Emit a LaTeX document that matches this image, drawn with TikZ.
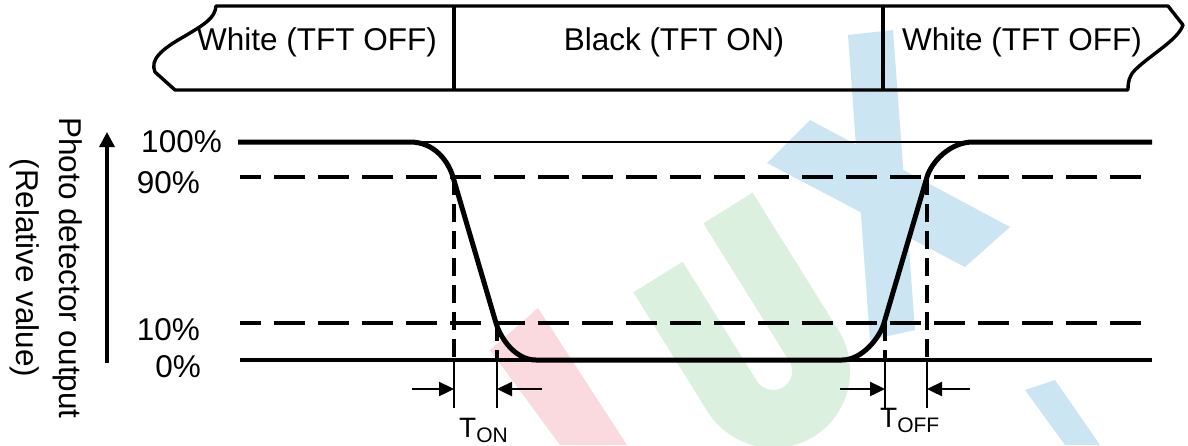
\documentclass[tikz,border=0pt]{standalone}
\usepackage{fontspec}
\setmainfont{Liberation Sans}
\usetikzlibrary{arrows.meta}
\definecolor{wmred}{RGB}{250,218,223}
\definecolor{wmgreen}{RGB}{220,240,224}
\definecolor{wmblue}{RGB}{204,229,243}
\tikzset{
  boxline/.style={line width=3.4pt, line join=round},
  thinline/.style={line width=2.4pt},
  signal/.style={line width=5pt, line join=round},
  hdash/.style={line width=4.5pt, dash pattern=on 31pt off 13pt, dash phase=10pt},
  vdash/.style={line width=3.4pt, dash pattern=on 18pt off 9pt},
  extline/.style={line width=2.4pt},
  dimarrow/.style={line width=2.4pt, -{Triangle[length=15pt,width=14pt]}},
  bigtext/.style={font=\fontsize{31.5}{36}\selectfont, inner sep=0pt},
  tlabel/.style={font=\fontsize{28}{30}\selectfont, inner sep=0pt, anchor=base west},
}
\newcommand{\subtxt}[1]{\raisebox{-5pt}{\fontsize{21}{22}\selectfont #1}}
\begin{document}
\begin{tikzpicture}[x=1pt, y=-1pt]
\useasboundingbox (0,0) rectangle (1188,445);
\fill[white] (0,0) rectangle (1188,445);

% watermark
\begin{scope}
\clip (0,0) rectangle (1188,445);
\fill[wmred] (490,350) -- (538,308) -- (627,445) -- (560,445) -- cycle;
\draw[wmgreen, line width=58pt, line cap=butt] (658,277) -- (732,396)
  .. controls (746,418.5) and (776.1,425.8) .. (798.6,411.8)
  .. controls (821.1,397.8) and (827.8,368.1) .. (813.8,345.6) -- (728,208);
\fill[wmblue] (848,35) -- (893,30) -- (915,330) -- (870,340) -- cycle;
\fill[wmblue] (767,163) -- (810,120) -- (1010,227) -- (965,267) -- cycle;
\fill[wmblue] (1025,390) -- (1055,380) -- (1100,445) -- (1065,445) -- cycle;
\end{scope}

% top band
\coordinate (tl) at (216,6);
\coordinate (tr) at (1168,6);
\coordinate (bl) at (175,90);
\coordinate (br) at (1128,90);
\draw[boxline] (bl) -- (br) .. controls (1128,82) and (1129,76) .. (1135,70)
  .. controls (1150,55) and (1178,40) .. (1183,25) -- (tr) -- (tl)
  .. controls (215,18) and (205,24) .. (185,36)
  .. controls (160,50) and (150,60) .. (155,72) -- cycle;
\coordinate (d1t) at (454,6); \coordinate (d1b) at (454,90);
\coordinate (d2t) at (883,6); \coordinate (d2b) at (883,90);
\draw[boxline] (d1t) -- (d1b);
\draw[boxline] (d2t) -- (d2b);
\node[bigtext, anchor=base] (w1) at (317,50) {White (TFT OFF)};
\node[bigtext, anchor=base] (bk) at (674,50) {Black (TFT ON)};
\node[bigtext, anchor=base] (w2) at (1022,50) {White (TFT OFF)};

% axis labels
\node[bigtext, rotate=-90] (lab1) at (68,268) {Photo detector output};
\node[bigtext, rotate=-90] (lab2) at (25,268) {(Relative value)};
\coordinate (axb) at (107,363);
\coordinate (axt) at (107,132);
\draw[line width=3.4pt, -{Triangle[length=15pt,width=15pt]}] (axb) -- (axt);

% level labels
\node[bigtext, anchor=base east] (p100) at (222,152) {100\%};
\node[bigtext, anchor=base east] (p90) at (200,193) {90\%};
\node[bigtext, anchor=base east] (p10) at (200,340) {10\%};
\node[bigtext, anchor=base east] (p0) at (201,377) {0\%};

% level lines
\coordinate (l100a) at (238,142); \coordinate (l100b) at (1152,142);
\coordinate (l90a) at (240,177);  \coordinate (l90b) at (1152,177);
\coordinate (l10a) at (240,323);  \coordinate (l10b) at (1152,323);
\coordinate (l0a) at (240,360);   \coordinate (l0b) at (1152,360);
\draw[thinline] (l100a) -- (l100b);
\draw[hdash] (l90a) -- (l90b);
\draw[hdash] (l10a) -- (l10b);
\draw[line width=3.2pt] (l0a) -- (l0b);

% signal
\draw[signal] (l100a) -- (410,142) .. controls (435,142) and (448.6,162) .. (453,177)
  -- (496,323) .. controls (500.4,338) and (515,360) .. (536,360)
  -- (842,360) .. controls (862,360) and (879.6,338) .. (884,323)
  -- (927,177) .. controls (931.4,162) and (950,142) .. (973,142) -- (l100b);

% extension lines
\coordinate (e1a) at (454,177); \coordinate (e1b) at (454,360); \coordinate (e1c) at (454,408);
\coordinate (e2a) at (497,323); \coordinate (e2b) at (497,360); \coordinate (e2c) at (497,408);
\coordinate (e3a) at (885,323); \coordinate (e3b) at (885,360); \coordinate (e3c) at (885,408);
\coordinate (e4a) at (927,177); \coordinate (e4b) at (927,360); \coordinate (e4c) at (927,408);
\draw[vdash] (e1a) -- (e1b); \draw[extline] (e1b) -- (e1c);
\draw[vdash] (e2a) -- (e2b); \draw[extline] (e2b) -- (e2c);
\draw[vdash] (e3a) -- (e3b); \draw[extline] (e3b) -- (e3c);
\draw[vdash] (e4a) -- (e4b); \draw[extline] (e4b) -- (e4c);

% dimension arrows
\coordinate (a1) at (412,389); \coordinate (a1e) at (454,389);
\coordinate (a2) at (542,389); \coordinate (a2e) at (497,389);
\coordinate (a3) at (840,389); \coordinate (a3e) at (885,389);
\coordinate (a4) at (970,389); \coordinate (a4e) at (927,389);
\draw[dimarrow] (a1) -- (a1e);
\draw[dimarrow] (a2) -- (a2e);
\draw[dimarrow] (a3) -- (a3e);
\draw[dimarrow] (a4) -- (a4e);

\node[tlabel] (ton) at (459,437) {T\subtxt{ON}};
\node[tlabel] (toff) at (880,427) {T\subtxt{OFF}};
\end{tikzpicture}
\end{document}
